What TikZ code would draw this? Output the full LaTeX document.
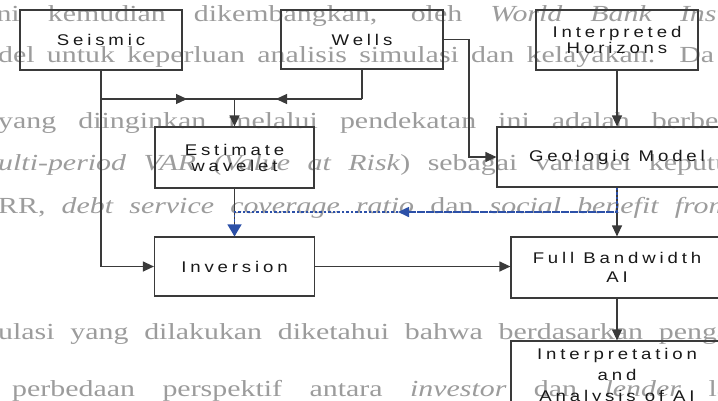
\documentclass[tikz,border=0pt]{standalone}
\usepackage{fontspec}
\setmainfont{Liberation Serif}
\newfontfamily\diagfont[FakeStretch=1.2,LetterSpace=25]{Liberation Sans}
\newfontfamily\wmfont[FakeStretch=1.3]{Liberation Serif}
\usetikzlibrary{arrows.meta}
\definecolor{lineC}{HTML}{3A3A3A}
\definecolor{blueC}{HTML}{2C50A8}
\definecolor{wmC}{HTML}{9C9C9C}
\newcommand\diagtext{\diagfont\fontsize{15.5pt}{16pt}\selectfont}
\newcommand\wmtext{\wmfont\fontsize{23pt}{23pt}\selectfont}
\begin{document}
\begin{tikzpicture}[x=1pt,y=-1pt,
  box/.style={draw=lineC, line width=1.2pt, inner sep=0pt, align=center, font=\diagtext, text=black!90},
  conn/.style={draw=lineC, line width=1.2pt},
  tip/.style={-{Triangle[length=11pt,width=10pt]}},
  bigtip/.style={-{Triangle[length=12pt,width=14pt]}},
  wm/.style={anchor=base west, inner sep=0pt, text=wmC, font=\wmtext},
  blueline/.style={draw=blueC, line width=1.6pt, dash pattern=on 2.5pt off 2pt}]
\useasboundingbox (0,0) rectangle (718,400);
\clip (0,0) rectangle (718,400);
\fill[white] (0,0) rectangle (718,400);

% background page text
\node[wm] (w1) at (-12,21) {\makebox[745pt][s]{ini kemudian dikembangkan, oleh \textit{World Bank Insti}}};
\node[wm] (w2) at (-2,62) {\makebox[716pt][s]{del untuk keperluan analisis simulasi dan kelayakan. Da}};
\node[wm] (w3) at (-2,128) {\makebox[730pt][s]{yang diinginkan melalui pendekatan ini adalah berber}};
\node[wm] (w4) at (-2,170) {\makebox[732pt][s]{\textit{ulti-period VAR (Value at Risk}) sebagai variabel keputu}};
\node[wm] (w5) at (-2,213) {\makebox[732pt][s]{RR, \textit{debt service coverage ratio} dan \textit{social benefit from}}};
\node[wm] (w6) at (-2,339) {\makebox[732pt][s]{ulasi yang dilakukan diketahui bahwa berdasarkan penga}};
\node[wm] (w7) at (12,396) {\makebox[718pt][s]{perbedaan perspektif antara \textit{investor} dan \textit{lender} la}};

% boxes
\node[box, minimum width=162pt, minimum height=60pt] (seis) at (101,40) {Seismic};
\node[box, minimum width=162pt, minimum height=59pt] (wells) at (362,39.5) {Wells};
\node[box, minimum width=162pt, minimum height=60pt] (ih) at (617,40) {Interpreted\\Horizons};
\node[box, minimum width=159pt, minimum height=61pt] (est) at (234.5,157.5) {Estimate\\wavelet};
\node[box, minimum width=240pt, minimum height=60pt] (geo) at (617,157) {Geologic Model};
\node[box, minimum width=160pt, minimum height=59pt] (inv) at (234.5,266.5) {Inversion};
\node[box, minimum width=212pt, minimum height=61pt] (fb) at (617,267.5) {Full Bandwidth\\[3pt]AI};
\node[box, minimum width=212pt, minimum height=70pt] (interp) at (617,376) {Interpretation\\[5pt]and\\[5pt]Analysis of AI};

% junctions
\coordinate (j1) at (101,99);
\coordinate (j2) at (234.5,99);
\coordinate (j3) at (362,99);
\coordinate (m1) at (187,99);
\coordinate (m2) at (276,99);
\coordinate (k1) at (469,39.5);
\coordinate (b1) at (617,212);
\coordinate (b2) at (234.5,212);
\coordinate (b4) at (398,212);

% connectors
\draw[conn, tip] (seis.south) |- (inv.west);
\draw[conn] (j1) -- (j3);
\draw[conn, tip] (j1) -- (m1);
\draw[conn] (wells.south) -- (j3);
\draw[conn, tip] (j3) -- (m2);
\draw[conn, tip] (j2) -- (est.north);
\draw[conn, tip] (wells.east) -- (k1) |- (geo.west);
\draw[conn, tip] (ih.south) -- (geo.north);
\draw[conn, tip] (est.south) -- (inv.north);
\draw[conn, tip] (geo.south) -- (fb.north);
\draw[conn, tip] (inv.east) -- (inv.east -| fb.west);
\draw[conn, tip] (fb.south) -- (interp.north);

% feedback from the geologic model
\draw[blueline, bigtip] (geo.south) -- (b1) -- (b2) -- (inv.north);
\draw[blueline, tip] (b1) -- (b4);
\end{tikzpicture}
\end{document}
